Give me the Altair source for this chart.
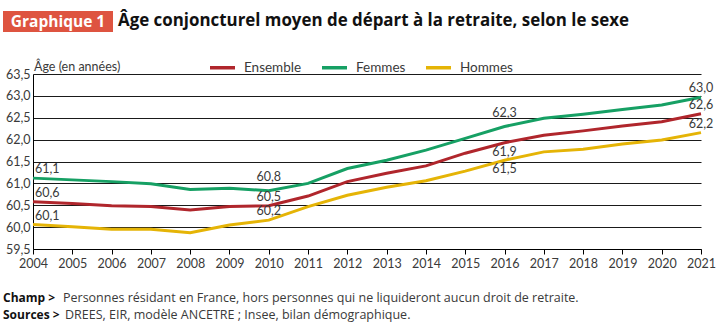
import altair as alt
import pandas as pd

years = list(range(2004, 2022))
ensemble = [60.58, 60.54, 60.49, 60.47, 60.39, 60.47, 60.49, 60.71, 61.04, 61.23,
            61.40, 61.69, 61.93, 62.10, 62.20, 62.31, 62.41, 62.59]
femmes = [61.12, 61.08, 61.04, 60.99, 60.86, 60.89, 60.83, 61.00, 61.34, 61.53,
          61.76, 62.03, 62.30, 62.49, 62.58, 62.69, 62.79, 62.97]
hommes = [60.06, 60.01, 59.95, 59.95, 59.87, 60.05, 60.16, 60.47, 60.73, 60.91,
          61.06, 61.28, 61.53, 61.72, 61.78, 61.90, 61.99, 62.16]
series_names = ["Ensemble", "Femmes", "Hommes"]
series_colors = ["#B0262C", "#16A064", "#E5B406"]
y_ticks = [59.5, 60.0, 60.5, 61.0, 61.5, 62.0, 62.5, 63.0, 63.5]

title_tag = "Graphique 1"
title_text = "Âge conjoncturel moyen de départ à la retraite, selon le sexe"
y_title = "Âge (en années)"
champ_bold = "Champ >"
champ_text = "Personnes résidant en France, hors personnes qui ne liquideront aucun droit de retraite."
sources_bold = "Sources >"
sources_text = "DREES, EIR, modèle ANCETRE ; Insee, bilan démographique."

rows = []
for name, vals in zip(series_names, [ensemble, femmes, hommes]):
    for yr, v in zip(years, vals):
        rows.append({"annee": yr, "serie": name, "valeur": v})
df = pd.DataFrame(rows)

FONT = "Lato"
TFONT = "Open Sans"
TXT = "#3a3a3a"

x_enc = alt.X("annee:Q", scale=alt.Scale(domain=[2004, 2021], nice=False, zero=False),
              axis=alt.Axis(values=years, tickCount=40, format="d", title=None, grid=False,
                            tickSize=5, tickColor="#000", domainColor="#000",
                            labelFontSize=12.5, labelColor=TXT, labelPadding=3,
                            labelFont=FONT, labelFlush=False, labelOverlap=False))
y_enc = alt.Y("valeur:Q", scale=alt.Scale(domain=[59.5, 63.5], nice=False, zero=False),
              axis=alt.Axis(values=y_ticks, tickCount=40, title=None, grid=True,
                            gridColor="#1a1a1a", gridWidth=1.2, ticks=False,
                            domainColor="#000", labelOverlap=False,
                            labelExpr="replace(format(datum.value, '.1f'), '.', ',')",
                            labelFontSize=12.5, labelColor=TXT, labelPadding=3,
                            labelFont=FONT))
color_enc = alt.Color("serie:N", scale=alt.Scale(domain=series_names, range=series_colors),
                      legend=alt.Legend(orient="none", legendX=175, legendY=-21,
                                        direction="horizontal", title=None,
                                        symbolType="stroke", symbolStrokeWidth=3.5,
                                        symbolSize=625, labelFontSize=13.5,
                                        labelFont=FONT, labelColor=TXT,
                                        labelOffset=7, columnPadding=13))

base = alt.Chart(df)
lines = base.mark_line(strokeWidth=3, interpolate="linear").encode(
    x=x_enc, y=y_enc, color=color_enc)


def label_layer(filter_expr, **kw):
    return base.transform_filter(filter_expr).transform_calculate(
        lbl="replace(format(datum.valeur, '.1f'), '.', ',')"
    ).mark_text(font=FONT, fontSize=12.5, color=TXT, baseline="middle", **kw).encode(
        x="annee:Q", y="valeur:Q", text="lbl:N")


lab_2004 = label_layer("datum.annee == 2004", align="left", dx=2, dy=-9)
lab_2010a = label_layer("datum.annee == 2010 && datum.serie == 'Femmes'", align="center", dy=-14)
lab_2010b = label_layer("datum.annee == 2010 && datum.serie != 'Femmes'", align="center", dy=-9)
lab_2016a = label_layer("datum.annee == 2016 && datum.serie == 'Femmes'", align="center", dy=-14)
lab_2016b = label_layer("datum.annee == 2016 && datum.serie != 'Femmes'", align="center", dy=9)
lab_2021 = label_layer("datum.annee == 2021", align="center", dy=-9)

one = alt.Chart(pd.DataFrame({"k": [0]}))
tag_box = one.mark_rect(color="#DE5440").encode(
    x=alt.value(-30), x2=alt.value(80), y=alt.value(-63), y2=alt.value(-42))
tag_txt = one.mark_text(text=title_tag, font=TFONT, fontSize=15.5, fontWeight="bold",
                        color="white", align="center", baseline="middle").encode(
    x=alt.value(25), y=alt.value(-52))
title_txt = one.mark_text(text=title_text, font=TFONT, fontSize=16.9, fontWeight="bold",
                          color="#111", align="left", baseline="middle").encode(
    x=alt.value(85), y=alt.value(-53))
ytitle = one.mark_text(text=y_title, font=FONT, fontSize=12.5, color=TXT,
                       align="left", baseline="middle").encode(
    x=alt.value(1), y=alt.value(-7))
f1b = one.mark_text(text=champ_bold, font=TFONT, fontSize=12, fontWeight="bold",
                    color="#111", align="left", baseline="middle").encode(
    x=alt.value(-30), y=alt.value(224))
f1 = one.mark_text(text=champ_text, font=TFONT, fontSize=12.5, color=TXT,
                   align="left", baseline="middle").encode(
    x=alt.value(30), y=alt.value(224))
f2b = one.mark_text(text=sources_bold, font=TFONT, fontSize=12, fontWeight="bold",
                    color="#111", align="left", baseline="middle").encode(
    x=alt.value(-30), y=alt.value(241))
f2 = one.mark_text(text=sources_text, font=TFONT, fontSize=12.5, color=TXT,
                   align="left", baseline="middle").encode(
    x=alt.value(32), y=alt.value(241))

chart = alt.layer(
    lines, lab_2004, lab_2010a, lab_2010b, lab_2016a, lab_2016b, lab_2021,
    tag_box, tag_txt, title_txt, ytitle, f1b, f1, f2b, f2
).properties(
    width=668, height=175,
    autosize=alt.AutoSizeParams(type="none"),
    padding={"left": 33, "top": 74, "right": 16, "bottom": 80},
    background="white",
).configure_view(stroke=None)

chart.save("out.html", embed_options={"renderer": "svg", "actions": False})
